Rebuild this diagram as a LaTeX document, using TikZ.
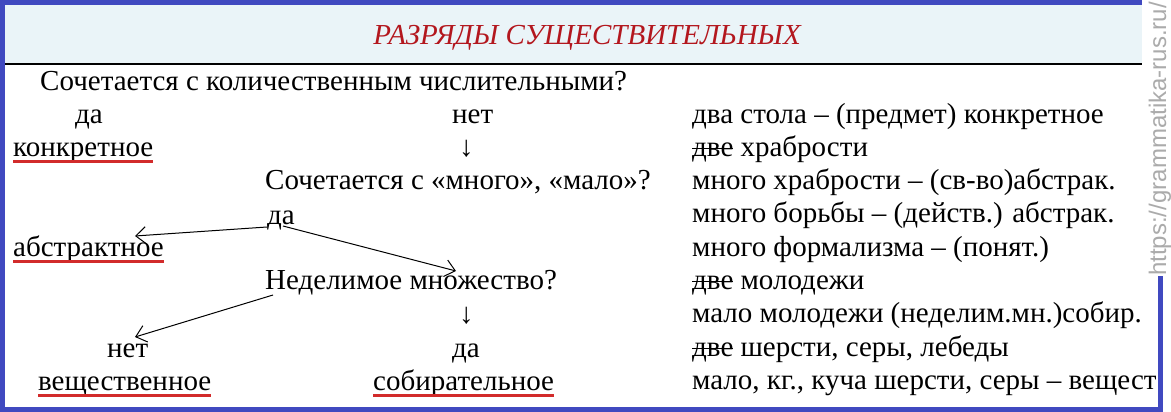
\documentclass[tikz,border=0pt]{standalone}
\usepackage{fontspec}
\setmainfont{Liberation Serif}
\newfontfamily\bodyfont{Liberation Serif}
\newfontfamily\sitefont{Liberation Sans}
\usepackage{tikz}
\usetikzlibrary{arrows.meta, positioning}
\definecolor{frameblue}{HTML}{4049C0}
\definecolor{bandblue}{HTML}{EAF4F8}
\definecolor{titlered}{HTML}{B3171E}
\definecolor{linered}{HTML}{D22B2B}
\definecolor{sitegray}{HTML}{ABABAB}
\newcommand{\crossed}[1]{\setbox0\hbox{#1}\rlap{\rule[0.23em]{\wd0}{0.055em}}\box0\relax}

\begin{document}
\begin{tikzpicture}[x=1pt, y=-1pt,
        every node/.style={inner sep=0pt,
        anchor=base west,
        font=\bodyfont\fontsize{29}{33}\selectfont},
        underl/.style={linered, line width=3pt},
        >={Straight Barb[length=10pt, width=17pt]}]
        \useasboundingbox[fill=white] (0,0) rectangle (1171,412);
        % title band and frame
        \fill[bandblue] (5,5) rectangle (1158,64);
        \draw[line width=1.2pt] (5,64) -- (1158,64);
        \draw[frameblue, line width=5pt] (2.5,2.5) rectangle (1160.5,409.5);
        \node[anchor=base, text=titlered, font=\bodyfont\fontsize{29}{33}\selectfont\itshape] at (587,45) (title) {РАЗРЯДЫ СУЩЕСТВИТЕЛЬНЫХ};
        % left: questions and answers
        \node at (40,91) (q1) {Сочетается с количественным числительными?};
        \node at (75,123) (yes1) {да};
        \node at (452,123) (no1) {нет};
        \node at (13,156) (konk) {конкретное};
        \node at (459,156) (down1) {↓};
        \node at (265,189) (q2) {Сочетается с «много», «мало»?};
        \node at (267,224) (yes2) {да};
        \node at (13,256) (abstr) {абстрактное};
        \node at (265,289) (q3) {Неделимое множество?};
        \node at (459,323) (down2) {↓};
        \node at (107,357) (no3) {нет};
        \node at (452,357) (yes3) {да};
        \node at (38,390) (veshch) {вещественное};
        \node at (373,390) (sobir) {собирательное};
        \draw[underl] ([yshift=-5pt]konk.base west) -- ([yshift=-5pt]konk.base east);
        \draw[underl] ([yshift=-5pt]abstr.base west) -- ([yshift=-5pt]abstr.base east);
        \draw[underl] ([yshift=-5pt]veshch.base west) -- ([yshift=-5pt]veshch.base east);
        \draw[underl] ([yshift=-5pt]sobir.base west) -- ([yshift=-5pt]sobir.base east);
        \coordinate (tipabstr) at (135,236);
        \coordinate (tipq3) at (456,271);
        \coordinate (tipno3) at (135,337);
        \draw[->, line width=1pt] ([yshift=-3pt]yes2.base west) -- (tipabstr);
        \draw[->, line width=1pt] ([shift={(16pt,-2pt)}]yes2.base west) -- (tipq3);
        \draw[->, line width=1pt] ([shift={(8pt,-6pt)}]q3.base west) -- (tipno3);
        % right: examples
        \node at (692,123) (ex1) {два стола – (предмет) конкретное};
        \node at (692,156) (ex2) {\crossed{две} храбрости};
        \node at (692,189) (ex3) {много храбрости – (св-во)абстрак.};
        \node at (692,222) (ex4) {много борьбы – (действ.) абстрак.};
        \node at (692,256) (ex5) {много формализма – (понят.)};
        \node at (692,289) (ex6) {\crossed{две} молодежи};
        \node at (692,322) (ex7) {мало молодежи (неделим.мн.)собир.};
        \node at (692,356) (ex8) {\crossed{две} шерсти, серы, лебеды};
        \node at (692,389) (ex9) {мало, кг., куча шерсти, серы – вещест};
        % site mark
        \fill[white] (1142,0) rectangle (1171,276);
        \node[anchor=base, rotate=90, text=sitegray, font=\sitefont\fontsize{24}{24}\selectfont] at (1166,139) (site) {https://grammatika-rus.ru/};
\end{tikzpicture}
\end{document}
